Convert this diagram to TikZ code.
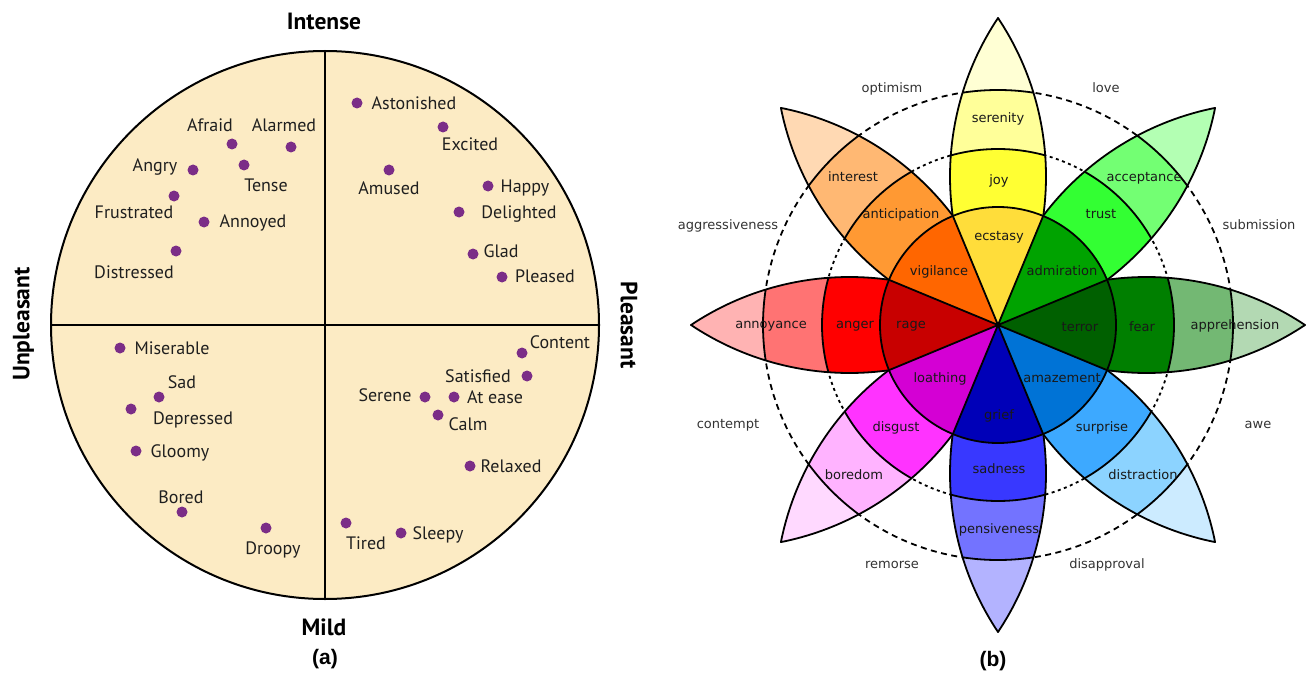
\documentclass[tikz,border=0pt]{standalone}
\usepackage{fontspec}
\newfontfamily\wordfont{PT Sans}
\newfontfamily\wheelfont{DejaVu Sans}
\newfontfamily\capfont{Liberation Sans}

\definecolor{wheat}{HTML}{FCEBC4}
\definecolor{dotc}{HTML}{7B2D87}
\definecolor{joytip}{HTML}{FFFFD4}   \definecolor{joyout}{HTML}{FFFF99}   \definecolor{joymid}{HTML}{FFFF33}   \definecolor{joyin}{HTML}{FFDD3A}
\definecolor{trusttip}{HTML}{B3FFB3} \definecolor{trustout}{HTML}{73FF73} \definecolor{trustmid}{HTML}{33FF33} \definecolor{trustin}{HTML}{00A300}
\definecolor{feartip}{HTML}{B3D9B3}  \definecolor{fearout}{HTML}{73B873}  \definecolor{fearmid}{HTML}{007F00}  \definecolor{fearin}{HTML}{006000}
\definecolor{surptip}{HTML}{CCEBFF}  \definecolor{surpout}{HTML}{8CD3FF}  \definecolor{surpmid}{HTML}{3DA9FF}  \definecolor{surpin}{HTML}{0073D6}
\definecolor{sadtip}{HTML}{B3B3FF}   \definecolor{sadout}{HTML}{7373FF}   \definecolor{sadmid}{HTML}{3838FF}   \definecolor{sadin}{HTML}{0000B8}
\definecolor{distip}{HTML}{FFD9FF}   \definecolor{disout}{HTML}{FFB3FF}   \definecolor{dismid}{HTML}{FF33FF}   \definecolor{disin}{HTML}{D400D4}
\definecolor{angtip}{HTML}{FFB3B3}   \definecolor{angout}{HTML}{FF7373}   \definecolor{angmid}{HTML}{FF0000}   \definecolor{angin}{HTML}{C80000}
\definecolor{anttip}{HTML}{FFD9B3}   \definecolor{antout}{HTML}{FFB873}   \definecolor{antmid}{HTML}{FF9933}   \definecolor{antin}{HTML}{FF6600}

\tikzset{
  dot/.style={circle, fill=dotc, inner sep=0pt, minimum size=11pt},
  word/.style={font=\wordfont\fontsize{18}{20}\selectfont, text=black!88, inner sep=0pt, text height=12.5pt, text depth=0pt},
  pole/.style={font=\wordfont\bfseries\fontsize{23.5}{25}\selectfont, inner sep=0pt, text height=16.5pt, text depth=0pt},
  panel/.style={font=\capfont\bfseries\fontsize{21}{23}\selectfont, inner sep=0pt, text height=15pt, text depth=0pt},
  rim/.style={draw=black, line width=1.8pt, line join=round},
  emo/.style={font=\wheelfont\fontsize{13}{15}\selectfont, text=black!90, inner sep=0pt, text height=9.5pt, text depth=0pt},
  dyad/.style={emo, text=black!80},
}

% one leaf of the wheel, pointing along +x before rotation
\newcommand{\petalpath}{(-10,0) arc[start angle=123.7, end angle=56.3, radius=285.7] arc[start angle=-56.3, end angle=-123.7, radius=285.7] -- cycle}
\newcommand{\petal}[4]{%
  \begin{scope}[rotate=#1]
    \fill[#2] \petalpath;
    \begin{scope}
      \clip \petalpath;
      \fill[#3] (0,0) circle (235);
      \fill[#4] (0,0) circle (176);
      \draw[rim] (0,0) circle (235) (0,0) circle (176);
    \end{scope}
    \draw[rim] \petalpath;
  \end{scope}}

\begin{document}
\begin{tikzpicture}[x=1pt, y=-1pt]
\useasboundingbox (0,0) rectangle (1307,674);

% (a) circumplex
\node[circle, draw=black, line width=2pt, fill=wheat, minimum size=548pt, inner sep=0pt, outer sep=0pt] (disc) at (325,325) {};
\draw[line width=2pt] (disc.north) -- (disc.south);
\draw[line width=2pt] (disc.west) -- (disc.east);

\node[pole] (intense) at (324,21) {Intense};
\node[pole] (mild) at (324,627) {Mild};
\node[pole, rotate=90] (unpleasant) at (21,324) {Unpleasant};
\node[pole, rotate=-90] (pleasant) at (629,325) {Pleasant};
\node[panel] (pa) at (325,657) {(a)};

\node[dot] (astonished) at (357,103) {};
\node[word] (t-astonished) at (414,103) {Astonished};
\node[dot] (excited) at (443,127) {};
\node[word] (t-excited) at (470,144) {Excited};
\node[dot] (amused) at (389,170) {};
\node[word] (t-amused) at (389,188) {Amused};
\node[dot] (happy) at (488,186) {};
\node[word] (t-happy) at (525,186) {Happy};
\node[dot] (delighted) at (459,212) {};
\node[word] (t-delighted) at (519,212) {Delighted};
\node[dot] (glad) at (473,254) {};
\node[word] (t-glad) at (501,251) {Glad};
\node[dot] (pleased) at (502,277) {};
\node[word] (t-pleased) at (545,276) {Pleased};

\node[dot] (afraid) at (232,144) {};
\node[word] (t-afraid) at (210,125) {Afraid};
\node[dot] (alarmed) at (291,147) {};
\node[word] (t-alarmed) at (284,125) {Alarmed};
\node[dot] (angry) at (193,170) {};
\node[word] (t-angry) at (155,165) {Angry};
\node[dot] (tense) at (244,165) {};
\node[word] (t-tense) at (266,185) {Tense};
\node[dot] (frustrated) at (174,196) {};
\node[word] (t-frustrated) at (134,212) {Frustrated};
\node[dot] (annoyed) at (204,222) {};
\node[word] (t-annoyed) at (253,221) {Annoyed};
\node[dot] (distressed) at (176,251) {};
\node[word] (t-distressed) at (134,272) {Distressed};

\node[dot] (miserable) at (120,348) {};
\node[word] (t-miserable) at (172,348) {Miserable};
\node[dot] (sad) at (159,397) {};
\node[word] (t-sad) at (182,382) {Sad};
\node[dot] (depressed) at (131,409) {};
\node[word] (t-depressed) at (193,418) {Depressed};
\node[dot] (gloomy) at (136,451) {};
\node[word] (t-gloomy) at (180,451) {Gloomy};
\node[dot] (bored) at (182,512) {};
\node[word] (t-bored) at (181,497) {Bored};
\node[dot] (droopy) at (266,528) {};
\node[word] (t-droopy) at (273,548) {Droopy};

\node[dot] (content) at (522,353) {};
\node[word] (t-content) at (560,342) {Content};
\node[dot] (satisfied) at (527,376) {};
\node[word] (t-satisfied) at (478,376) {Satisfied};
\node[dot] (serene) at (425,397) {};
\node[word] (t-serene) at (385,395) {Serene};
\node[dot] (atease) at (454,397) {};
\node[word] (t-atease) at (495,397) {At ease};
\node[dot] (calm) at (438,415) {};
\node[word] (t-calm) at (468,424) {Calm};
\node[dot] (relaxed) at (470,466) {};
\node[word] (t-relaxed) at (511,466) {Relaxed};
\node[dot] (tired) at (346,523) {};
\node[word] (t-tired) at (366,543) {Tired};
\node[dot] (sleepy) at (401,533) {};
\node[word] (t-sleepy) at (438,533) {Sleepy};

% (b) wheel
\begin{scope}[shift={(998,325)}, y=1pt]
  \draw[line width=1.8pt, dash pattern=on 6pt off 4.5pt] (0,0) circle (235);
  \draw[line width=1.8pt, dash pattern=on 3pt off 3.5pt] (0,0) circle (176);

  \petal{90}{joytip}{joyout}{joymid}
  \petal{45}{trusttip}{trustout}{trustmid}
  \petal{0}{feartip}{fearout}{fearmid}
  \petal{-45}{surptip}{surpout}{surpmid}
  \petal{-90}{sadtip}{sadout}{sadmid}
  \petal{-135}{distip}{disout}{dismid}
  \petal{180}{angtip}{angout}{angmid}
  \petal{135}{anttip}{antout}{antmid}

  \fill[joyin] (0,0) -- (67.5:118) arc[start angle=67.5, end angle=112.5, radius=118] -- cycle;
  \fill[trustin] (0,0) -- (22.5:118) arc[start angle=22.5, end angle=67.5, radius=118] -- cycle;
  \fill[fearin] (0,0) -- (-22.5:118) arc[start angle=-22.5, end angle=22.5, radius=118] -- cycle;
  \fill[surpin] (0,0) -- (-67.5:118) arc[start angle=-67.5, end angle=-22.5, radius=118] -- cycle;
  \fill[sadin] (0,0) -- (-112.5:118) arc[start angle=-112.5, end angle=-67.5, radius=118] -- cycle;
  \fill[disin] (0,0) -- (-157.5:118) arc[start angle=-157.5, end angle=-112.5, radius=118] -- cycle;
  \fill[angin] (0,0) -- (157.5:118) arc[start angle=157.5, end angle=202.5, radius=118] -- cycle;
  \fill[antin] (0,0) -- (112.5:118) arc[start angle=112.5, end angle=157.5, radius=118] -- cycle;
  \draw[rim] (22.5:118) -- (202.5:118) (67.5:118) -- (247.5:118)
             (112.5:118) -- (292.5:118) (157.5:118) -- (337.5:118);
  \draw[rim] (0,0) circle (118);
\end{scope}

\node[emo] (l-serenity) at (998,118) {serenity};
\node[emo] (l-joy) at (999,180) {joy};
\node[emo] (l-ecstasy) at (999,236) {ecstasy};
\node[emo] (l-interest) at (853,177) {interest};
\node[emo] (l-anticipation) at (901,214) {anticipation};
\node[emo] (l-vigilance) at (939,271) {vigilance};
\node[emo] (l-acceptance) at (1144,177) {acceptance};
\node[emo] (l-trust) at (1101,214) {trust};
\node[emo] (l-admiration) at (1062,271) {admiration};
\node[emo] (l-annoyance) at (771,324) {annoyance};
\node[emo] (l-anger) at (855,324) {anger};
\node[emo] (l-rage) at (911,324) {rage};
\node[emo] (l-terror) at (1080,327) {terror};
\node[emo] (l-fear) at (1142,327) {fear};
\node[emo] (l-apprehension) at (1235,325) {apprehension};
\node[emo] (l-loathing) at (940,378) {loathing};
\node[emo] (l-amazement) at (1062,378) {amazement};
\node[emo] (l-grief) at (999,415) {grief};
\node[emo] (l-disgust) at (896,427) {disgust};
\node[emo] (l-surprise) at (1102,427) {surprise};
\node[emo] (l-sadness) at (999,469) {sadness};
\node[emo] (l-boredom) at (854,475) {boredom};
\node[emo] (l-distraction) at (1143,475) {distraction};
\node[emo] (l-pensiveness) at (999,529) {pensiveness};

\node[dyad] (d-optimism) at (892,88) {optimism};
\node[dyad] (d-love) at (1106,88) {love};
\node[dyad] (d-aggressiveness) at (728,225) {aggressiveness};
\node[dyad] (d-submission) at (1259,225) {submission};
\node[dyad] (d-contempt) at (728,424) {contempt};
\node[dyad] (d-awe) at (1258,424) {awe};
\node[dyad] (d-remorse) at (892,564) {remorse};
\node[dyad] (d-disapproval) at (1107,564) {disapproval};
\node[panel] (pb) at (993,659) {(b)};
\end{tikzpicture}
\end{document}
